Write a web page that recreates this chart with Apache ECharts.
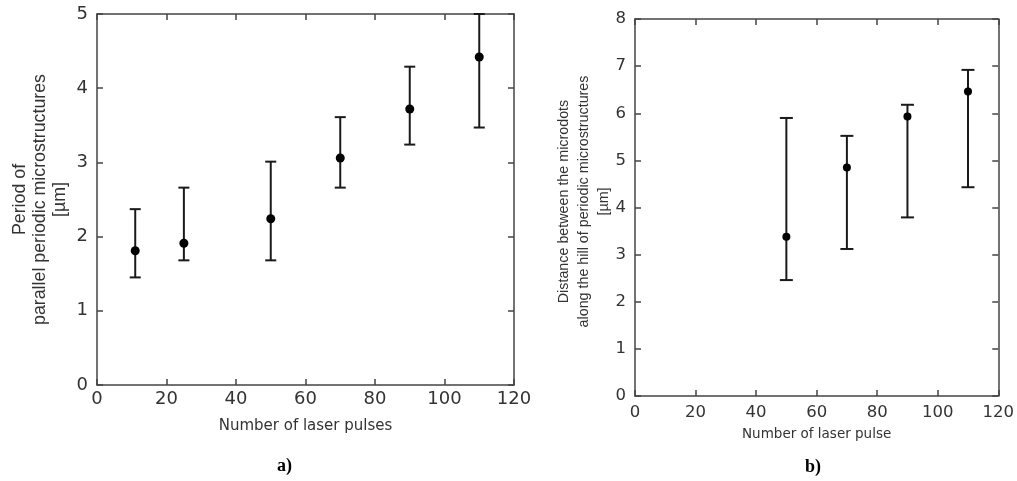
<!DOCTYPE html>
<html>
<head>
<meta charset="utf-8">
<script src="https://cdn.jsdelivr.net/npm/echarts@6/dist/echarts.min.js"></script>
<style>
html,body{margin:0;padding:0;background:#fff;}
#c{width:1017px;height:481px;}
</style>
</head>
<body>
<div id="c"></div>
<script>
// ---- data: panel a) ----
const aPulses = [11, 25, 50, 70, 90, 110];
const aMean   = [1.81, 1.91, 2.24, 3.06, 3.72, 4.42];
const aUpper  = [2.37, 2.66, 3.01, 3.61, 4.29, 5.00];
const aLower  = [1.45, 1.68, 1.68, 2.66, 3.24, 3.47];
// ---- data: panel b) ----
const bPulses = [50, 70, 90, 110];
const bMean   = [3.38, 4.85, 5.93, 6.46];
const bUpper  = [5.90, 5.52, 6.18, 6.92];
const bLower  = [2.46, 3.12, 3.79, 4.43];
// ---- axis settings ----
const xMin = 0, xMax = 120, xStep = 20;
const aYMin = 0, aYMax = 5, aYStep = 1;
const bYMin = 0, bYMax = 8, bYStep = 1;
const aXTitle = 'Number of laser pulses';
const aYTitle = 'Period of\nparallel periodic microstructures\n[µm]';
const bXTitle = 'Number of laser pulse';
const bYTitle = 'Distance between the microdots\nalong the hill of periodic microstructures\n[µm]';

const FONT = 'DejaVu Sans';
const TFONT = 'Liberation Sans';
const AX = '#444';
const INK = '#1a1a1a';

function errRender(capHalf) {
  return function (params, api) {
    const x = api.value(0), lo = api.value(1), hi = api.value(2);
    const p1 = api.coord([x, lo]), p2 = api.coord([x, hi]);
    const st = { stroke: INK, lineWidth: 2 };
    return {
      type: 'group',
      children: [
        { type: 'line', shape: { x1: p1[0], y1: p1[1], x2: p2[0], y2: p2[1] }, style: st },
        { type: 'line', shape: { x1: p1[0] - capHalf, y1: p1[1], x2: p1[0] + capHalf, y2: p1[1] }, style: st },
        { type: 'line', shape: { x1: p2[0] - capHalf, y1: p2[1], x2: p2[0] + capHalf, y2: p2[1] }, style: st }
      ]
    };
  };
}

function xAx(gi, pos, fs, labelMargin, name, nameGap, nameFs) {
  return {
    type: 'value', gridIndex: gi, position: pos, min: xMin, max: xMax, interval: xStep,
    axisLine: { show: true, onZero: false, lineStyle: { color: AX, width: 1.5 } },
    axisTick: { show: true, inside: true, length: 6, lineStyle: { color: AX, width: 1.5 } },
    axisLabel: { show: pos === 'bottom', color: '#333', fontFamily: FONT, fontSize: fs, margin: labelMargin },
    splitLine: { show: false },
    name: pos === 'bottom' ? name : '', nameLocation: 'middle', nameGap: nameGap,
    nameTextStyle: { color: '#333', fontFamily: FONT, fontSize: nameFs }
  };
}
function yAx(gi, pos, mn, mx, step, fs, labelMargin, name, nameGap, nameFs, lh, pad) {
  return {
    type: 'value', gridIndex: gi, position: pos, min: mn, max: mx, interval: step,
    axisLine: { show: true, onZero: false, lineStyle: { color: AX, width: 1.5 } },
    axisTick: { show: true, inside: true, length: 6, lineStyle: { color: AX, width: 1.5 } },
    axisLabel: { show: pos === 'left', color: '#333', fontFamily: FONT, fontSize: fs, margin: labelMargin },
    splitLine: { show: false },
    name: pos === 'left' ? name : '', nameLocation: 'middle', nameGap: nameGap,
    nameMoveOverlap: false,
    nameTextStyle: { color: '#333', fontFamily: TFONT, fontSize: nameFs, lineHeight: lh, align: 'center', padding: pad || 0 }
  };
}

const chart = echarts.init(document.getElementById('c'), null, { renderer: 'canvas' });
chart.setOption({
  backgroundColor: '#fff',
  animation: false,
  grid: [
    { left: 97, top: 14, width: 417, height: 371 },
    { left: 635, top: 19, width: 369, height: 377 }
  ],
  xAxis: [
    xAx(0, 'bottom', 18, 5, aXTitle, 34, 15),
    xAx(0, 'top', 18, 5, '', 0, 15),
    xAx(1, 'bottom', 16.5, 8, bXTitle, 31, 13.5),
    xAx(1, 'top', 16.5, 8, '', 0, 13.5)
  ],
  yAxis: [
    yAx(0, 'left', aYMin, aYMax, aYStep, 18, 9, aYTitle, 27, 17.8, 20),
    yAx(0, 'right', aYMin, aYMax, aYStep, 18, 9, '', 0, 17.8, 20),
    yAx(1, 'left', bYMin, bYMax, bYStep, 16.5, 9, bYTitle, 21, 14.3, 20, [0, 0, 0, 12]),
    yAx(1, 'right', bYMin, bYMax, bYStep, 16.5, 9, '', 0, 14.3, 20)
  ],
  series: [
    {
      type: 'custom', xAxisIndex: 0, yAxisIndex: 0, clip: false,
      renderItem: errRender(5.5),
      encode: { x: 0, y: [1, 2] },
      data: aPulses.map((x, i) => [x, aLower[i], aUpper[i]])
    },
    {
      type: 'scatter', xAxisIndex: 0, yAxisIndex: 0, symbol: 'circle', symbolSize: 9,
      itemStyle: { color: '#000', opacity: 1 }, data: aPulses.map((x, i) => [x, aMean[i]])
    },
    {
      type: 'custom', xAxisIndex: 2, yAxisIndex: 2, clip: false,
      renderItem: errRender(6.5),
      encode: { x: 0, y: [1, 2] },
      data: bPulses.map((x, i) => [x, bLower[i], bUpper[i]])
    },
    {
      type: 'scatter', xAxisIndex: 2, yAxisIndex: 2, symbol: 'circle', symbolSize: 8,
      itemStyle: { color: '#000', opacity: 1 }, data: bPulses.map((x, i) => [x, bMean[i]])
    }
  ],
  graphic: [
    { type: 'text', left: 277, top: 457, style: { text: 'a)', font: 'bold 18px "Liberation Serif", "DejaVu Serif", serif', fill: '#000' } },
    { type: 'text', left: 805, top: 458, style: { text: 'b)', font: 'bold 18px "Liberation Serif", "DejaVu Serif", serif', fill: '#000' } }
  ]
});
</script>
</body>
</html>
